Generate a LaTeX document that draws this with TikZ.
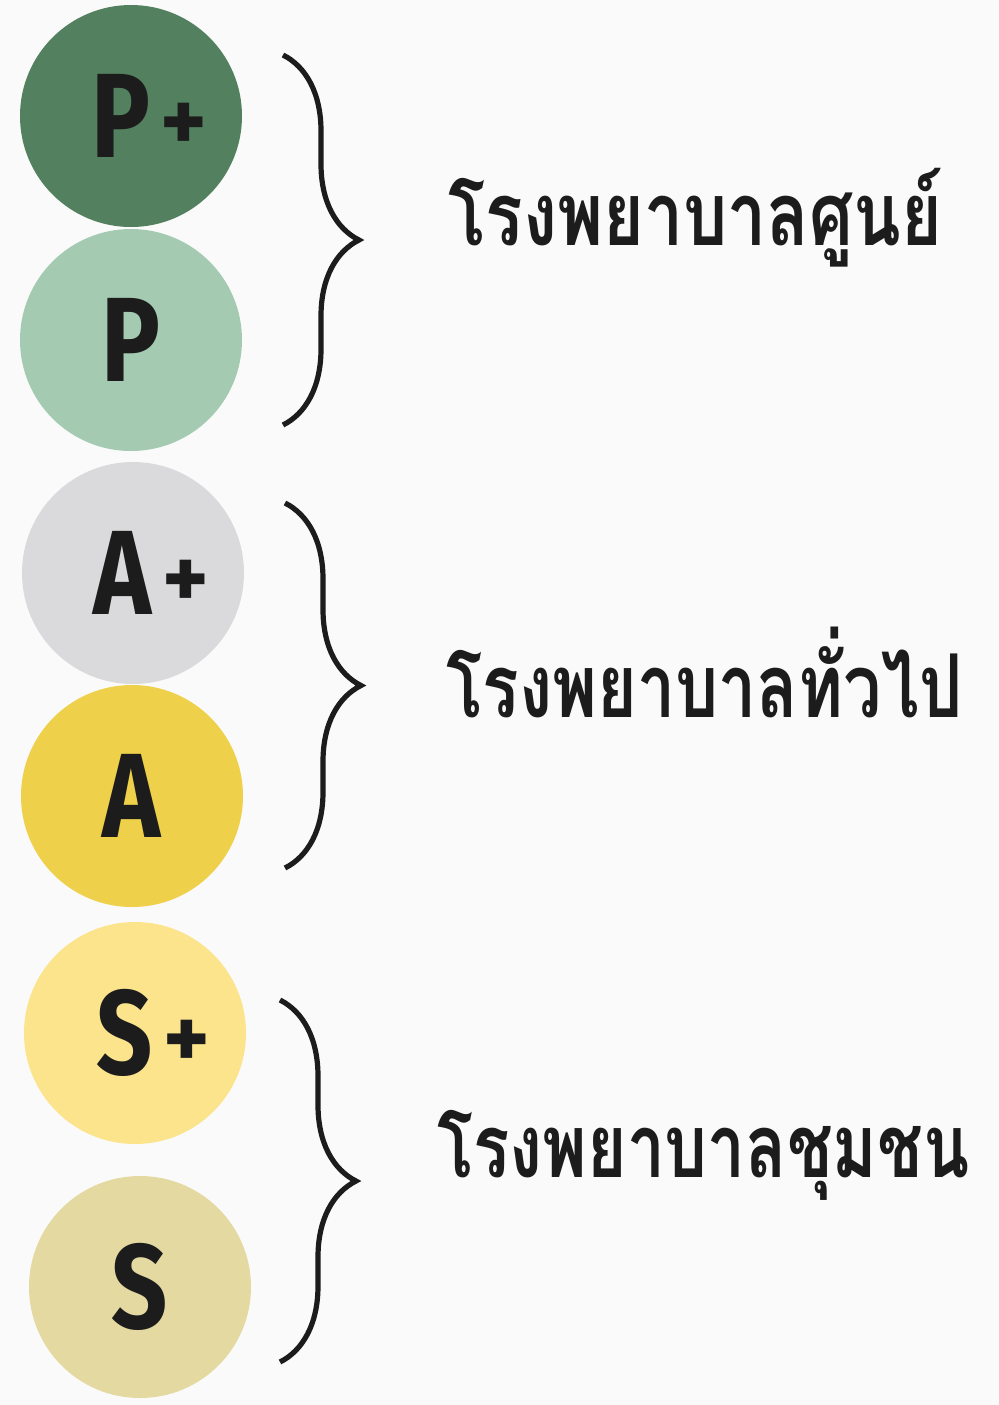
\documentclass[tikz,border=0pt]{standalone}
\usepackage{graphicx}
\usepackage{fontspec}
\setmainfont{Fira Sans}
\newfontfamily\thaifont[Script=Thai]{Loma}
\usepackage{tikz}
\usetikzlibrary{decorations.pathreplacing}
\definecolor{paper}{RGB}{250,250,250}
\definecolor{inkblack}{RGB}{28,28,28}
\definecolor{pplusgreen}{RGB}{83,128,94}
\definecolor{pgreen}{RGB}{164,203,177}
\definecolor{aplusgray}{RGB}{218,218,220}
\definecolor{ayellow}{RGB}{238,208,74}
\definecolor{spluscream}{RGB}{252,228,140}
\definecolor{sbeige}{RGB}{228,217,161}
% grade letter with a small plus hanging on the right
\newcommand{\gradeplus}[1]{\hspace*{-10pt}\scalebox{0.82}[1]{#1}\rlap{\hspace{5pt}\raisebox{3pt}{\fontsize{44}{44}\selectfont +}}}
\newcommand{\gradeonly}[1]{\scalebox{0.82}[1]{#1}}
% squeeze a level name to the width it takes in the chart
\newcommand{\levelname}[2]{\resizebox{#1}{\height}{#2}}

\begin{document}
\begin{tikzpicture}[x=0.5pt,y=-0.5pt,
  disc/.style={circle,minimum size=111pt,inner sep=0pt,text=inkblack,
    font=\fontsize{60}{60}\selectfont\bfseries},
  bracket/.style={decorate,decoration={brace,amplitude=38pt},line width=2.6pt,inkblack},
  grouplabel/.style={anchor=base west,text=inkblack,inner sep=0pt,
    font=\thaifont\fontsize{44}{50}\selectfont\bfseries}]
  \fill[paper] (0,0) rectangle (999,1405);
  \useasboundingbox (0,0) rectangle (999,1405);
  % hospital grades
  \node[disc,fill=pplusgreen] (pplus) at (131,116) {\gradeplus{P}};
  \node[disc,fill=pgreen] (pbase) at (131,340) {\gradeonly{P}};
  \node[disc,fill=aplusgray] (aplus) at (133,573) {\gradeplus{A}};
  \node[disc,fill=ayellow] (abase) at (132,796) {\gradeonly{A}};
  \node[disc,fill=spluscream] (splus) at (135,1033) {\gradeplus{S}};
  \node[disc,fill=sbeige] (sbase) at (140,1287) {\gradeonly{S}};
  % braces
  \coordinate (b1top) at (283,55);
  \coordinate (b1bot) at (283,425);
  \coordinate (b2top) at (285,503);
  \coordinate (b2bot) at (285,868);
  \coordinate (b3top) at (280,1000);
  \coordinate (b3bot) at (280,1362);
  \draw[bracket] (b1top) -- (b1bot);
  \draw[bracket] (b2top) -- (b2bot);
  \draw[bracket] (b3top) -- (b3bot);
  % hospital levels
  \node[grouplabel] (regional) at (448,245) {\levelname{247pt}{โรงพยาบาลศูนย์}};
  \node[grouplabel] (general) at (446,717) {\levelname{258pt}{โรงพยาบาลทั่วไป}};
  \node[grouplabel] (community) at (437,1177) {\levelname{266pt}{โรงพยาบาลชุมชน}};
\end{tikzpicture}
\end{document}
